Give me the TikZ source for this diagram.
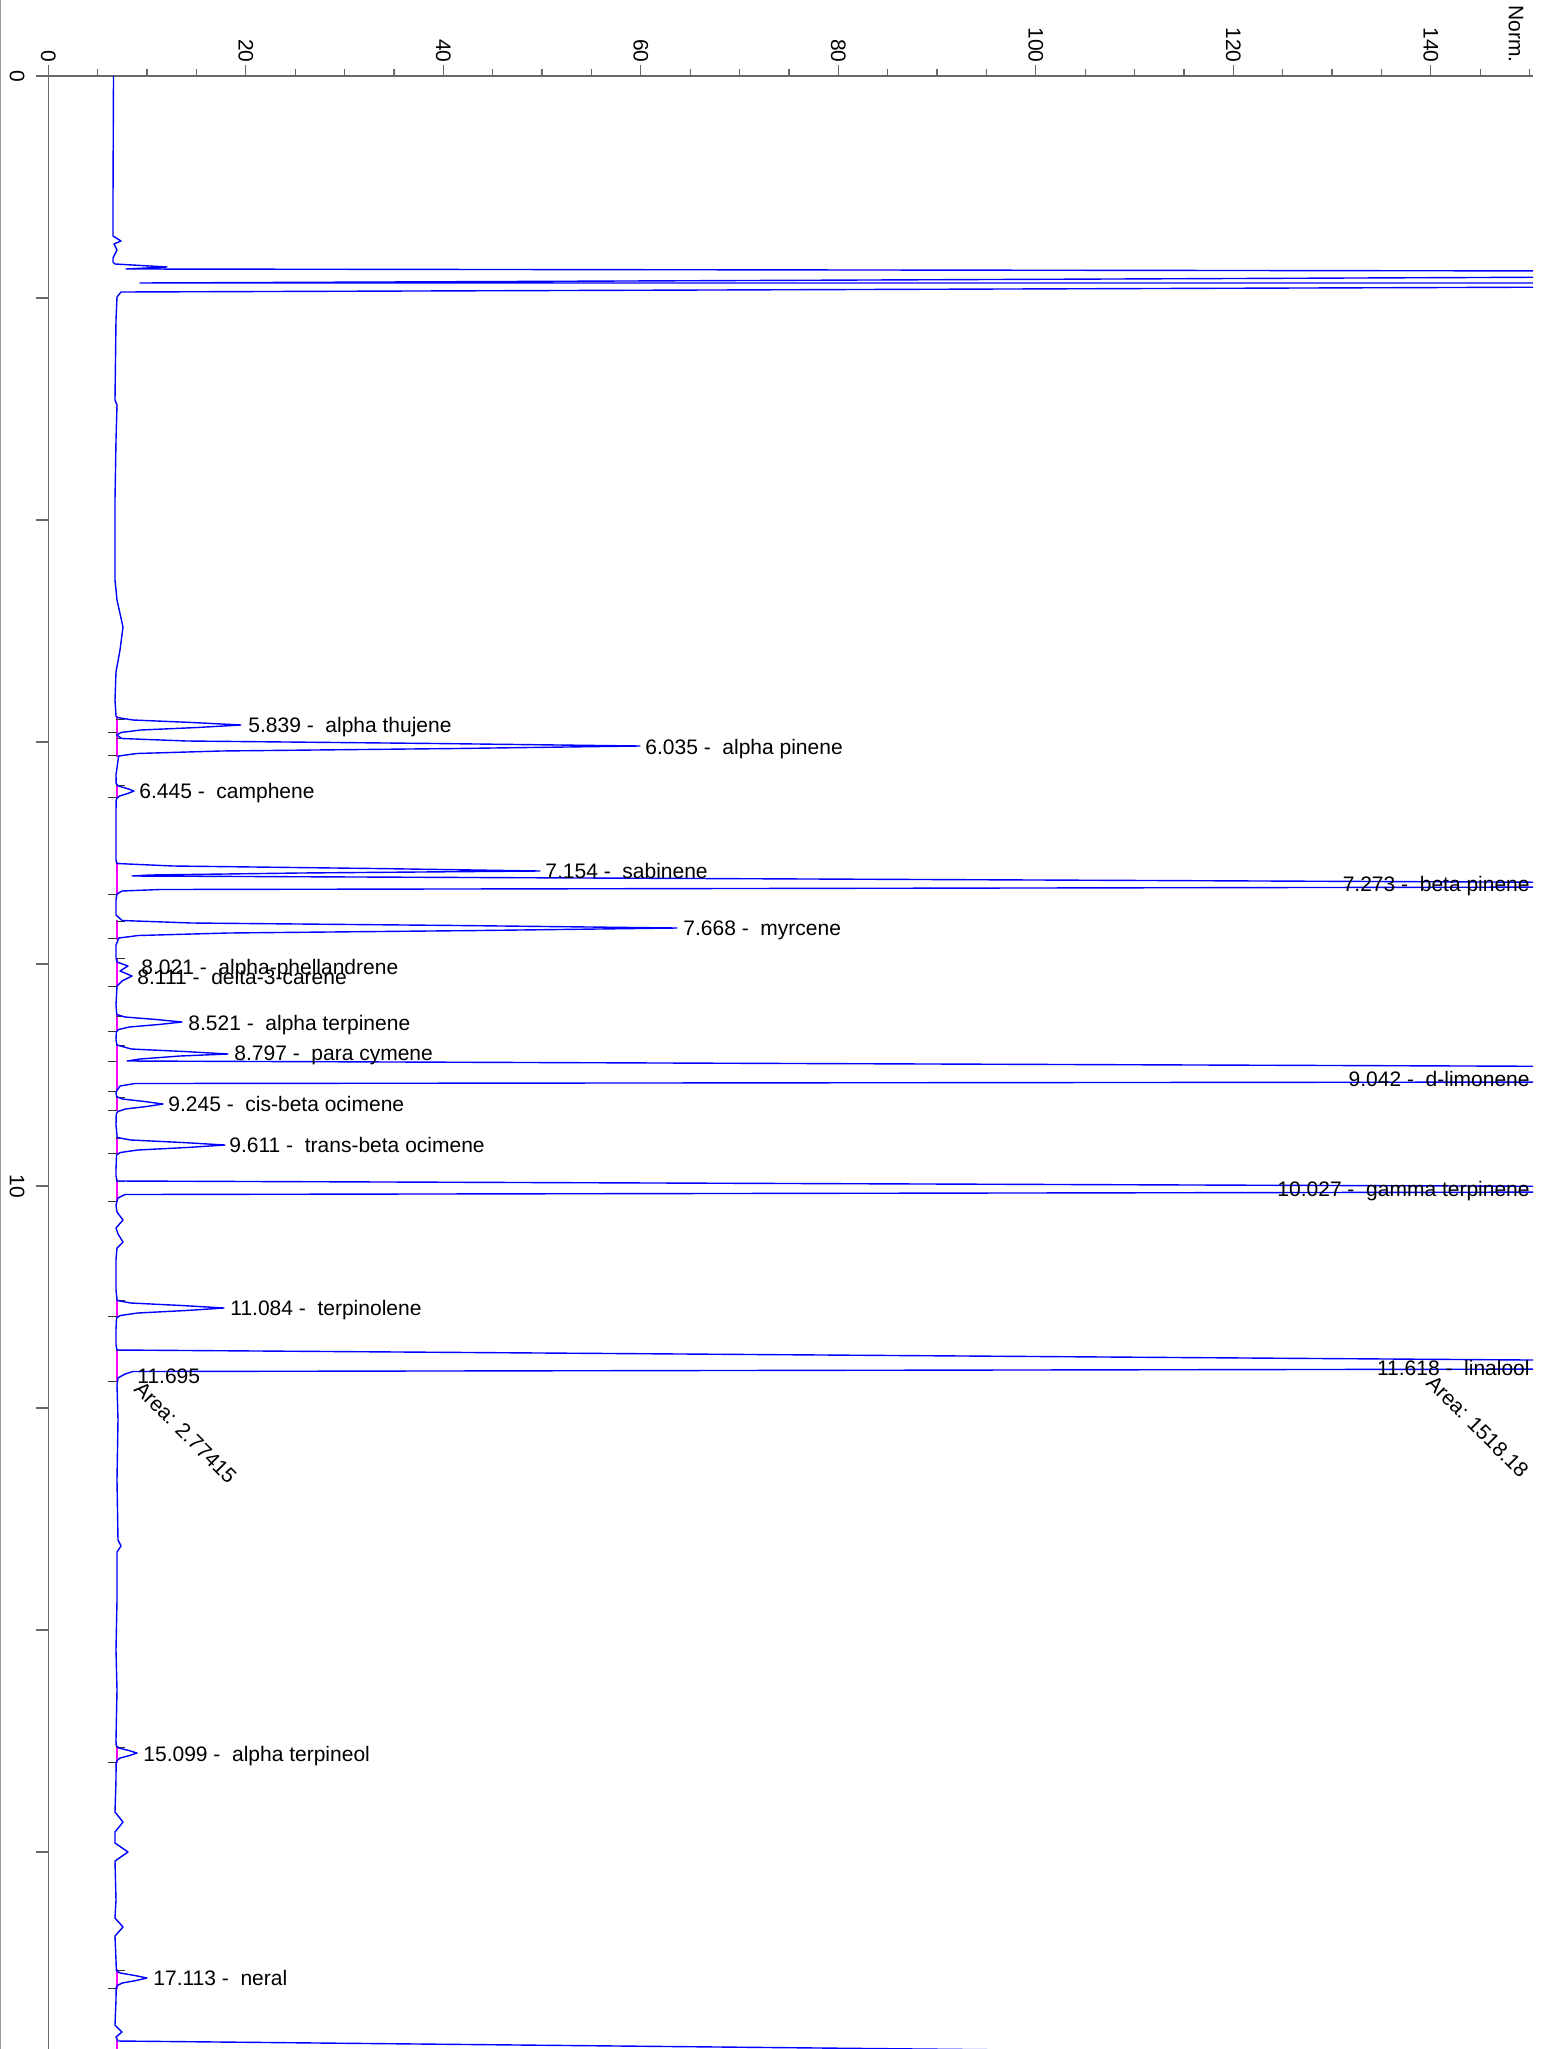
\documentclass[tikz,border=0pt]{standalone}
\usepackage{fontspec}
\setmainfont{Liberation Sans}
\definecolor{traceblue}{RGB}{0,0,255}
\definecolor{intmag}{RGB}{255,0,255}
\definecolor{axgray}{RGB}{105,105,105}
\newcommand\labfont{\fontsize{10.5bp}{12.6bp}\selectfont}
% generic narrow peak: #1 = apex y, #2 = height above baseline (x=116)
\newcommand\pk[2]{-- ({116+0.011*#2},{#1-7.5}) -- ({116+0.135*#2},{#1-5}) -- ({116+0.61*#2},{#1-2.5}) -- ({116+#2},{#1}) -- ({116+0.65*#2},{#1+2.5}) -- ({116+0.2*#2},{#1+5}) -- ({116+0.04*#2},{#1+7.5}) -- ({116+0.005*#2},{#1+10}) }
\begin{document}
\begin{tikzpicture}[x=0.5bp,y=-0.5bp,
  trace/.style={draw=traceblue, line width=0.7bp, line join=round},
  axis/.style={draw=axgray, line width=0.6bp},
  integ/.style={draw=intmag, line width=0.8bp},
  evt/.style={draw=black!80, line width=0.5bp},
  lab/.style={inner sep=0pt, font=\labfont, anchor=base west},
  labr/.style={inner sep=0pt, font=\labfont, anchor=base east},
  ticklab/.style={inner sep=0pt, font=\labfont, rotate=-90, anchor=east},
  arealab/.style={inner sep=0pt, font=\labfont, rotate=-45, anchor=west}]
\fill[white] (0,0) rectangle (1543,2049);
\useasboundingbox (0,0) rectangle (1543,2049);
% frame line at the left edge
\draw[draw=axgray!70, line width=0.5bp] (0.6,0) -- (0.6,2049);
% axes
\draw[axis] (36,76) -- (1533,76);
\draw[axis] (48.3,76) -- (48.3,2049);
\foreach \j in {1,...,30} \draw[axis] ({48.3+49.375*\j},69) -- ({48.3+49.375*\j},76);
\foreach \k/\v in {0/0,1/20,2/40,3/60,4/80,5/100,6/120,7/140} {
  \draw[axis] ({48.3+197.5*\k},65) -- ({48.3+197.5*\k},76);
  \node[ticklab] (tx\k) at ({48.3+197.5*\k},63) {\v};
}
\node[ticklab] (norm) at (1516,63) {Norm.};
\foreach \k in {0,...,8} \draw[axis] (36,{76+222*\k}) -- (48.3,{76+222*\k});
\node[inner sep=0pt, font=\labfont, rotate=-90] (ty0) at (17,76) {0};
\node[inner sep=0pt, font=\labfont, rotate=-90] (ty10) at (17,1186) {10};
% integration baselines
\foreach \a/\b in {716/757,784/798,862/895,920/940,958/987,1015/1031,1044/1091,1096/1111,1137/1154,1179/1201,1299/1317,1349/1382,1746/1763,1969/1989,2040/2049}
  \draw[integ] (117,\a) -- (117,\b);
% integration event marks
\foreach \y in {719,738,785,863,921,958,1016,1045,1097,1138,1181,1300,1350,1747,1970}
  \draw[evt] (116,\y) -- (125,\y);
\foreach \y in {732,755,797,894,938,986,1031,1061,1091,1110,1153,1201,1316,1381,1762,1988}
  \draw[evt] (108,\y) -- (117,\y);
% chromatogram trace
\begin{scope}
\clip (40,70) rectangle (1533,2049);
\draw[trace] (113.5,76) -- (113,200) -- (113,236) -- (121,241) -- (114,244) -- (117,250) -- (113,258) -- (113,262) -- (115,264) -- (167,267) -- (126,269)
 -- (1600,271) -- (1600,277) -- (140,283) -- (1600,283) -- (1600,287) -- (121,292) -- (117,297) -- (116,320) -- (115,400) -- (117,405) -- (116,440) -- (115,500) -- (115,580) -- (117,600) -- (123,627) -- (120,650) -- (116,672) -- (115,700) -- (116,716)
 \pk{725}{125}
 \pk{746}{524}
 -- (116,775) \pk{791}{18}
 -- (116,815) -- (116,855) -- (116,860) -- (117,863.5) -- ({116+0.135*424},866) -- ({116+0.61*424},868.5) -- (540,871) -- (300,873) -- (150,875) -- (132,876)
 -- (1600,882.5) -- (1600,887) -- (160,889.5) -- (122,891) -- (117,894) -- (116,900) -- (116,915)
 \pk{928}{561}
 -- (116,945) -- (116,958) -- (117,962) -- (128,966) -- (120,971) -- (132,976) -- (122,981) -- (117,986) -- (116,1005)
 \pk{1022}{66}
 -- (116,1040) -- (117,1045) -- ({116+0.135*112},1049) -- ({116+0.61*112},1051.5) -- (228,1054) -- (180,1056) -- (140,1059) -- (127,1061)
 -- (1600,1066.5) -- (1600,1082) -- (135,1083.5) -- (120,1086) -- (116,1092)
 \pk{1104}{47}
 -- (116,1125) \pk{1145}{109}
 -- (116,1170) -- (116,1176) -- (117,1181) -- (1600,1186.5) -- (1600,1192) -- (125,1194.5) -- (118,1198) -- (116,1205)
 -- (117,1212) -- (123,1220) -- (116,1228) -- (118,1234) -- (123,1242) -- (117,1248) -- (116,1260) -- (116,1290)
 \pk{1308}{108}
 -- (116,1330) -- (116,1345) -- (117,1350) -- (1600,1360.5) -- (1600,1369) -- (133,1371.5) -- (125,1374) -- (118,1378) -- (117,1385)
 -- (118,1420) -- (117,1480) -- (118,1540) -- (121,1546) -- (117,1552) -- (117,1600) -- (116,1650) -- (117,1690) -- (116,1740)
 \pk{1753}{21}
 -- (116,1780) -- (115,1812) -- (123,1822) -- (115,1832) -- (115,1843) -- (128,1852) -- (115,1861) -- (116,1900) -- (115,1918) -- (123,1927) -- (115,1936) -- (116,1960)
 \pk{1978}{31}
 -- (116,2000) -- (115,2025) -- (122,2032) -- (116,2037) -- (118,2041) -- (1020,2050);
\end{scope}
% peak labels
\node[lab] (l1) at (248,{725+7.5}) {5.839 -~~alpha thujene};
\node[lab] (l2) at (645,{747+7.5}) {6.035 -~~alpha pinene};
\node[lab] (l3) at (139,{791+7.5}) {6.445 -~~camphene};
\node[lab] (l4) at (545,{871+7.5}) {7.154 -~~sabinene};
\node[labr] (l5) at (1530,{884+7.5}) {7.273 -~~beta pinene};
\node[lab] (l6) at (683,{928+7.5}) {7.668 -~~myrcene};
\node[lab] (l7) at (141,{967+7.5}) {8.021 -~~alpha-phellandrene};
\node[lab] (l8) at (137,{977+7.5}) {8.111 -~~delta-3-carene};
\node[lab] (l9) at (188,{1023+7.5}) {8.521 -~~alpha terpinene};
\node[lab] (l10) at (234,{1053+7.5}) {8.797 -~~para cymene};
\node[labr] (l11) at (1530,{1079+7.5}) {9.042 -~~d-limonene};
\node[lab] (l12) at (168,{1104+7.5}) {9.245 -~~cis-beta ocimene};
\node[lab] (l13) at (229,{1145+7.5}) {9.611 -~~trans-beta ocimene};
\node[labr] (l14) at (1530,{1189+7.5}) {10.027 -~~gamma terpinene};
\node[lab] (l15) at (230,{1308+7.5}) {11.084 -~~terpinolene};
\node[labr] (l16) at (1530,{1368+7.5}) {11.618 -~~linalool};
\node[lab] (l17) at (137,{1376+7.5}) {11.695};
\node[arealab] (a17) at (138,1385) {Area: 2.77415};
\node[arealab] (a16) at (1430,1379) {Area: 1518.18};
\node[lab] (l18) at (143,{1754+7.5}) {15.099 -~~alpha terpineol};
\node[lab] (l19) at (153,{1978+7.5}) {17.113 -~~neral};
\end{tikzpicture}
\end{document}
